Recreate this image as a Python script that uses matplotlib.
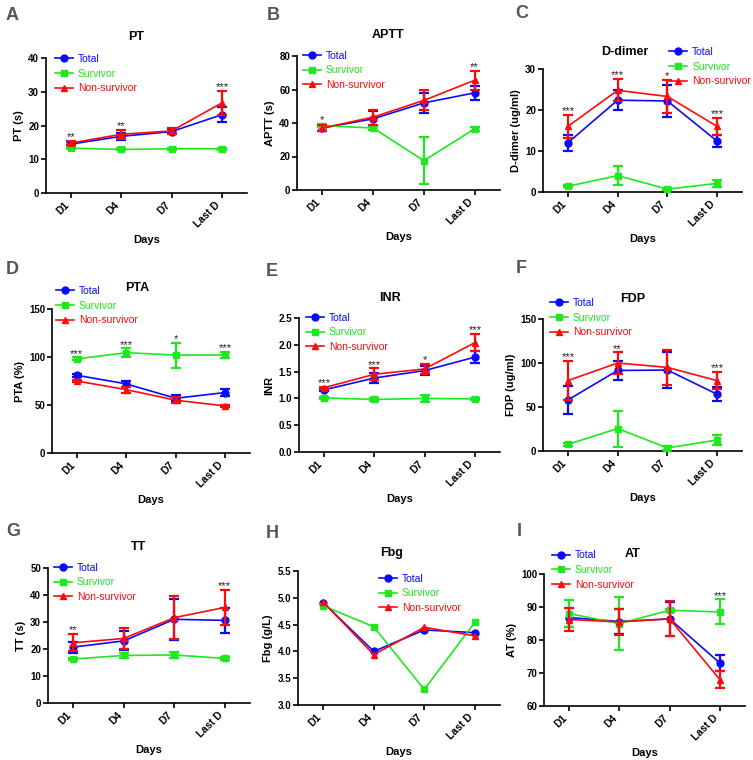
import matplotlib
matplotlib.use("Agg")
import matplotlib.pyplot as plt
from matplotlib.lines import Line2D
from matplotlib.ticker import FormatStrFormatter

plt.rcParams['font.family'] = ['Liberation Sans', 'DejaVu Sans']

days = ["D1", "D4", "D7", "Last D"]
groups = ["Total", "Survivor", "Non-survivor"]
colors = ["#0a0aff", "#1ee81e", "#ff0a0a"]
markers = ["o", "s", "^"]

# A: PT
pt_mean = [[14.5, 16.8, 18.2, 23.2], [13.3, 12.9, 13.1, 13.1], [14.8, 17.4, 18.4, 26.7]]
pt_err = [[0.5, 1.0, 0.8, 2.3], [0.3, 0.3, 0.3, 0.3], [0.6, 1.3, 0.9, 3.5]]
pt_stars = ["**", "**", "", "***"]

# B: APTT
aptt_mean = [[37.0, 42.5, 52.0, 58.0], [38.5, 37.0, 17.5, 36.5], [37.0, 43.5, 53.5, 65.5]]
aptt_err = [[1.5, 4.5, 6.0, 4.0], [1.0, 1.0, 14.0, 1.0], [2.0, 4.5, 6.0, 5.5]]
aptt_stars = ["*", "", "", "**"]

# C: D-dimer
dd_mean = [[12.0, 22.4, 22.2, 12.4], [1.4, 4.0, 0.7, 2.1], [16.0, 24.8, 23.3, 16.0]]
dd_err = [[2.0, 2.5, 4.0, 1.5], [0.3, 2.4, 0.3, 0.8], [2.8, 2.7, 4.0, 2.0]]
dd_stars = ["***", "***", "*", "***"]

# D: PTA
pta_mean = [[81.0, 72.0, 57.0, 63.0], [98.0, 104.5, 102.0, 102.0], [75.0, 66.0, 55.0, 49.0]]
pta_err = [[1.5, 3.0, 3.0, 4.0], [1.5, 4.5, 13.0, 3.0], [1.5, 3.0, 3.0, 1.5]]
pta_stars = ["***", "***", "*", "***"]

# E: INR
inr_mean = [[1.16, 1.38, 1.52, 1.77], [1.01, 0.98, 1.00, 0.99], [1.20, 1.45, 1.55, 2.04]]
inr_err = [[0.02, 0.10, 0.08, 0.11], [0.02, 0.02, 0.07, 0.02], [0.02, 0.11, 0.10, 0.16]]
inr_stars = ["***", "***", "*", "***"]

# F: FDP
fdp_mean = [[58.0, 91.5, 92.0, 64.5], [7.5, 25.5, 3.5, 12.5], [80.0, 100.0, 95.0, 80.0]]
fdp_err = [[16.0, 11.0, 20.0, 8.0], [2.0, 20.5, 2.0, 6.0], [22.0, 12.0, 20.0, 10.0]]
fdp_stars = ["***", "**", "", "***"]

# G: TT
tt_mean = [[20.7, 23.0, 31.0, 30.6], [16.3, 17.6, 17.8, 16.5], [22.3, 23.9, 31.6, 35.4]]
tt_err = [[2.0, 3.5, 7.7, 4.6], [0.5, 0.8, 1.0, 0.5], [3.2, 4.0, 8.0, 6.4]]
tt_stars = ["**", "", "", "***"]

# H: Fbg
fbg_mean = [[4.91, 4.00, 4.40, 4.35], [4.85, 4.46, 3.29, 4.54], [4.92, 3.94, 4.45, 4.29]]
fbg_err = None
fbg_stars = ["", "", "", ""]

# I: AT
at_mean = [[86.8, 85.6, 86.4, 73.0], [88.0, 85.0, 89.0, 88.5], [86.2, 85.5, 86.4, 68.0]]
at_err = [[2.8, 3.8, 5.2, 2.4], [4.0, 8.0, 0.5, 3.8], [3.6, 3.9, 5.3, 2.6]]
at_stars = ["", "", "", "***"]

W, H = 753, 760
fig = plt.figure(figsize=(W / 100, H / 100), dpi=100)

# (letter, title, ylabel, means, errs, stars, yticks, fmt, rect px (l, r, t, b), legend anchor, title pos, letter pos px)
panels = [
    ("A", "PT", "PT (s)", pt_mean, pt_err, pt_stars, [0, 10, 20, 30, 40], None,
     (46, 247, 58, 193), (0.045, 1.03), (0.45, 1.156), (12, 15)),
    ("B", "APTT", "APTT (s)", aptt_mean, aptt_err, aptt_stars, [0, 20, 40, 60, 80], None,
     (297, 500, 56, 190), (0.03, 1.04), (0.45, 1.157), (273, 15)),
    ("C", "D-dimer", "D-dimer (ug/ml)", dd_mean, dd_err, dd_stars, [0, 10, 20, 30], None,
     (543, 742, 69, 192), (0.635, 1.18), (0.41, 1.14), (522, 14)),
    ("D", "PTA", "PTA (%)", pta_mean, pta_err, pta_stars, [0, 50, 100, 150], None,
     (52, 250, 309, 453), (0.02, 1.16), (0.43, 1.146), (12, 270)),
    ("E", "INR", "INR", inr_mean, inr_err, inr_stars, [0.0, 0.5, 1.0, 1.5, 2.0, 2.5], "%.1f",
     (299, 500, 318, 452), (0.035, 1.04), (0.45, 1.15), (272, 271)),
    ("F", "FDP", "FDP (ug/ml)", fdp_mean, fdp_err, fdp_stars, [0, 50, 100, 150], None,
     (543, 742, 319, 451), (0.035, 1.16), (0.45, 1.15), (521, 269)),
    ("G", "TT", "TT (s)", tt_mean, tt_err, tt_stars, [0, 10, 20, 30, 40, 50], None,
     (48, 250, 568, 703), (0.03, 1.04), (0.45, 1.156), (13, 532)),
    ("H", "Fbg", "Fbg (g/L)", fbg_mean, fbg_err, fbg_stars, [3.0, 3.5, 4.0, 4.5, 5.0, 5.5], "%.1f",
     (298, 500, 571, 705), (0.40, 0.98), (0.465, 1.134), (272, 533)),
    ("I", "AT", "AT (%)", at_mean, at_err, at_stars, [60, 70, 80, 90, 100], None,
     (544, 745, 574, 706), (0.04, 1.18), (0.44, 1.15), (519, 532)),
]

xpos = list(range(len(days)))

for (letter, title, ylabel, means, errs, stars, yticks, fmt, rect, leg_anchor,
     title_pos, letter_pos) in panels:
    l, r, t, b = rect
    ax = fig.add_axes([l / W, 1 - b / H, (r - l) / W, (b - t) / H])
    for gi in range(3):
        yerr = errs[gi] if errs is not None else None
        ax.errorbar(xpos, means[gi], yerr=yerr, color=colors[gi], marker=markers[gi],
                    ms=5, lw=1.2, elinewidth=1.6, capsize=3.5, capthick=1.6,
                    clip_on=False, zorder=3 + gi)
    # significance stars
    for i, s in enumerate(stars):
        if not s:
            continue
        tops = []
        for gi in range(3):
            e = errs[gi][i] if errs is not None else 0
            tops.append(means[gi][i] + e)
        ax.annotate(s, (xpos[i], max(tops)), xytext=(0, 0.5), textcoords="offset points",
                    ha="center", va="baseline", fontsize=8, color="#222222")
    ax.set_xlim(-0.5, 3.5)
    ax.set_ylim(yticks[0], yticks[-1])
    ax.set_yticks(yticks)
    if fmt:
        ax.yaxis.set_major_formatter(FormatStrFormatter(fmt))
    ax.set_xticks(xpos)
    ax.set_xticklabels(days, rotation=45, ha="right", fontweight="bold", fontsize=7.5)
    for lab in ax.get_yticklabels():
        lab.set_fontweight("bold")
        lab.set_fontsize(7)
    for sp in ["top", "right"]:
        ax.spines[sp].set_visible(False)
    for sp in ["left", "bottom"]:
        ax.spines[sp].set_linewidth(1.2)
    ax.tick_params(width=1.2, length=3.5, pad=1.5)
    ax.set_xlabel("Days", fontweight="bold", fontsize=8, labelpad=4)
    ax.set_ylabel(ylabel, fontweight="bold", fontsize=8, labelpad=3)
    ax.text(title_pos[0], title_pos[1], title, transform=ax.transAxes, ha="center",
            va="center", fontweight="bold", fontsize=9)
    handles = [Line2D([0], [0], color=colors[gi], marker=markers[gi], ms=5, lw=1.2)
               for gi in range(3)]
    ax.legend(handles, groups, loc="upper left", bbox_to_anchor=leg_anchor,
              frameon=False, fontsize=7.5, labelcolor="linecolor", handlelength=1.7,
              handletextpad=0.5, borderpad=0, borderaxespad=0, labelspacing=0.45)
    fig.text(letter_pos[0] / W, 1 - letter_pos[1] / H, letter, ha="center", va="center",
             fontsize=13, fontweight="bold", color="#555555")

fig.savefig("out.png", dpi=100)
